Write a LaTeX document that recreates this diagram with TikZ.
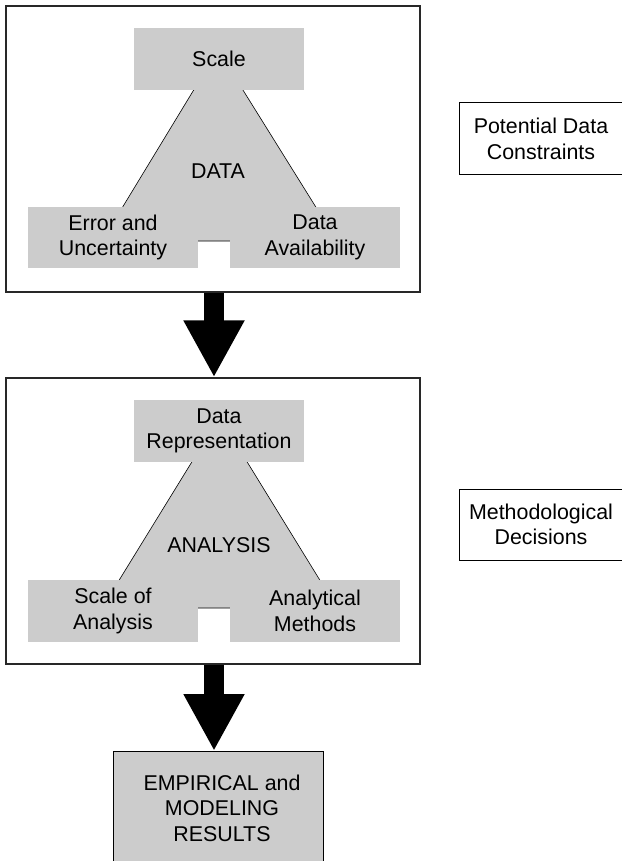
\documentclass[tikz,border=0pt]{standalone}
\usepackage{fontspec}
\setmainfont{Liberation Sans}
\usetikzlibrary{arrows.meta}
\definecolor{panelgray}{RGB}{204,204,204}
\definecolor{framegray}{RGB}{40,40,40}
\tikzset{
  frame/.style={draw=framegray, line width=1.3pt, fill=white, inner sep=0pt},
  greybox/.style={fill=panelgray, inner sep=0pt, align=center},
  sidebox/.style={draw=black, line width=1pt, inner sep=0pt, align=center},
  resultbox/.style={fill=panelgray, draw=black, line width=0.8pt, inner sep=0pt, align=center},
  tri/.style={fill=panelgray, draw=black, line width=0.6pt},
  bigarrow/.style={line width=20pt, -{Triangle[width=57pt,length=57pt]}},
  lbl/.style={inner sep=0pt, align=center}
}
\begin{document}
\begin{tikzpicture}[x=1pt,y=-1pt,font=\fontsize{21.4pt}{25.5pt}\selectfont]
\useasboundingbox (0,0) rectangle (621,861);

% upper panel: data constraints
\node[frame, minimum width=414pt, minimum height=286pt] (frameA) at (213,149) {};
\filldraw[tri] (218,50) -- (102,241) -- (337,241) -- cycle;
\node[greybox, minimum width=170pt, minimum height=62pt] (scaleA) at (219,59) {Scale};
\node[greybox, minimum width=170pt, minimum height=61pt] (errA) at (113,237.5) {Error and\\Uncertainty};
\node[greybox, minimum width=170pt, minimum height=61pt] (availA) at (315,237.5) {Data\\Availability};
\node[lbl] (dataA) at (218,171) {DATA};

% lower panel: analysis decisions
\node[frame, minimum width=414pt, minimum height=286pt] (frameB) at (213,521) {};
\filldraw[tri] (219.5,417) -- (102,608) -- (337,608) -- cycle;
\node[greybox, minimum width=170pt, minimum height=62pt] (reprB) at (219,431) {Data\\Representation};
\node[greybox, minimum width=170pt, minimum height=62pt] (scaleB) at (113,611) {Scale of\\Analysis};
\node[greybox, minimum width=170pt, minimum height=62pt] (methB) at (315,611) {Analytical\\Methods};
\node[lbl] (analysisB) at (219,545) {ANALYSIS};

% outcome
\node[resultbox, minimum width=210pt, minimum height=120pt, anchor=north] (result) at (218,751) {};
\node[lbl] (resultTxt) at (222,808) {EMPIRICAL and\\MODELING\\RESULTS};

% side captions (right edge runs past the page)
\node[sidebox, minimum width=170pt, minimum height=72pt, anchor=west] (sideA) at (459,139) {};
\node[lbl] (sideAtxt) at (541,139) {Potential Data\\Constraints};
\node[sidebox, minimum width=170pt, minimum height=71pt, anchor=west] (sideB) at (459,524.5) {};
\node[lbl] (sideBtxt) at (541,524.5) {Methodological\\Decisions};

% flow arrows
\draw[bigarrow] (frameA.south -| 214,0) -- (frameB.north -| 214,0);
\draw[bigarrow] (frameB.south -| 214,0) -- (result.north -| 214,0);
\end{tikzpicture}
\end{document}
